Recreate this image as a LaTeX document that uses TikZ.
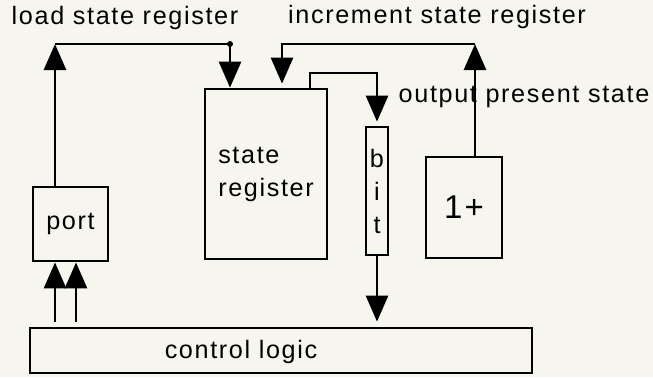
\documentclass[tikz,border=0pt]{standalone}
\usepackage{fontspec}
\setmainfont{Liberation Sans}[LetterSpace=6.5]
\usetikzlibrary{arrows.meta}
\definecolor{paper}{RGB}{247,246,238}

\begin{document}
\begin{tikzpicture}[x=0.5pt, y=-0.5pt, line width=1.4pt,
    font=\fontsize{12.6}{16.5}\selectfont,
    box/.style={draw, rectangle, inner sep=0pt},
    arr/.style={-{Triangle[length=13pt, width=11pt]}}]
  \fill[paper] (0,0) rectangle (653,377);
  \useasboundingbox (0,0) rectangle (653,377);
  % blocks
  \node[box, minimum width=37.5pt, minimum height=37pt] (port) at (70.5,224) {port};
  \node[box, minimum width=61pt, minimum height=85pt, align=left] (reg) at (266,174) {state\\register};
  \node[box, minimum width=11pt, minimum height=64pt, align=center] (bit) at (377,191) {b\\i\\t};
  \node[box, minimum width=38pt, minimum height=50.5pt, font=\fontsize{16.5}{18}\selectfont] (inc) at (464,207.5) {1+};
  \node[box, minimum width=251pt, minimum height=22.5pt] (ctrl) at (281,350.5) {};
  \node (ctrllbl) at (241,352) {control logic};
  % signal names
  \node (ldlbl) at (125,18) {load state register};
  \node (inclbl) at (437,17) {increment state register};
  \node (outlbl) at (524,97) {output present state};
  % bends
  \coordinate (ldcorner) at (55,44);
  \coordinate (lddot) at (230,44);
  \coordinate (inccorner) at (475,44);
  \coordinate (incturn) at (282,44);
  \coordinate (outturn) at (310,73);
  \coordinate (pl) at (55,322);
  \coordinate (pr) at (76,322);
  % connectors
  \draw[arr] (port.north -| ldcorner) -- (ldcorner);
  \draw[arr] (ldcorner) -- (lddot) -- (reg.north -| lddot);
  \fill (lddot) circle (1.5pt);
  \draw[arr] (inc.north -| inccorner) -- (inccorner);
  \draw[arr, shorten >=2pt] (inccorner) -- (incturn) -- (reg.north -| incturn);
  \draw[arr, shorten >=2pt] (reg.north -| outturn) -- (outturn) -| (bit.north);
  \draw[arr, shorten >=2.5pt] (bit.south) -- (bit.south |- ctrl.north);
  \draw[arr] (pl) -- (pl |- port.south);
  \draw[arr] (pr) -- (pr |- port.south);
\end{tikzpicture}
\end{document}
